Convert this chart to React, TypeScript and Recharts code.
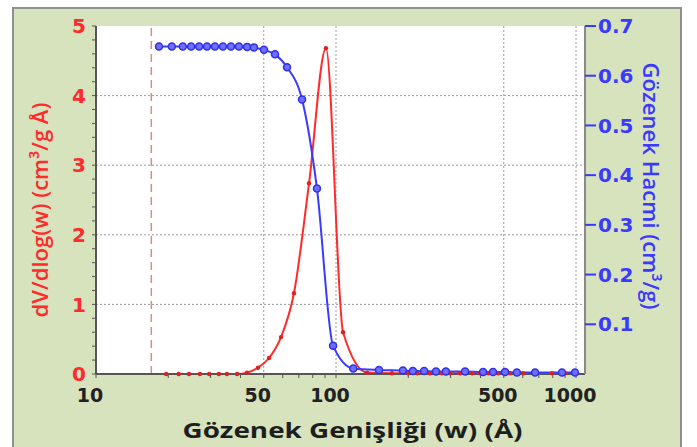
import { LineChart, Line, XAxis, YAxis, CartesianGrid, ReferenceLine, Label } from 'recharts';

// pore width (Å) for the cumulative pore volume curve
const volumeWidths = [
  18.3, 20.7, 23.0, 24.9, 26.9, 29.0, 31.3, 33.8, 36.5, 39.4, 42.6, 45.5, 50.1, 55.7, 62.5, 72.2, 83.3,
  97.2, 118, 151, 190, 209, 233, 261, 287, 345, 410, 451, 506, 567, 675, 874, 990,
];
// Gözenek Hacmi (cm3/g)
const poreVolume = [
  0.659, 0.659, 0.659, 0.659, 0.659, 0.659, 0.659, 0.659, 0.659, 0.659, 0.658, 0.657, 0.652, 0.643, 0.617,
  0.552, 0.373, 0.057, 0.011, 0.008, 0.007, 0.006, 0.006, 0.005, 0.005, 0.005, 0.004, 0.004, 0.004, 0.003,
  0.003, 0.003, 0.003,
];

// pore width (Å) for the distribution curve
const distWidths = [
  19.6, 22.1, 24.4, 27.1, 29.6, 32.5, 35.1, 38.7, 42.6, 47.3, 52.6, 59.0, 66.8, 77.2, 90.8, 107, 135, 171,
  200, 218, 246, 276, 299, 329, 369, 398, 430, 473, 531, 601, 794, 900, 1009,
];
// dV/dlog(w) (cm3/g Å)
const dVdlogW = [
  0, 0, 0, 0, 0, 0, 0, 0, 0.02, 0.09, 0.23, 0.53, 1.16, 2.74, 4.68, 0.6, 0.02, 0.01, 0.01, 0.01, 0.01, 0.01,
  0.01, 0.01, 0.01, 0.01, 0.01, 0.01, 0.01, 0.01, 0.01, 0.01, 0.01,
];

const xTicks = [10, 20, 30, 40, 50, 60, 70, 80, 90, 100, 200, 300, 400, 500, 600, 700, 800, 900, 1000];
const xLabels = [10, 50, 100, 500, 1000];
const leftTicks = [
  0, 0.2, 0.4, 0.6, 0.8, 1, 1.2, 1.4, 1.6, 1.8, 2, 2.2, 2.4, 2.6, 2.8, 3, 3.2, 3.4, 3.6, 3.8, 4, 4.2, 4.4,
  4.6, 4.8, 5,
];
const rightTicks = [0.1, 0.2, 0.3, 0.4, 0.5, 0.6, 0.7];
const gridY = [1, 2, 3, 4];
const gridX = [50, 100, 500, 1000];
const cutoffWidth = 17;

const volumeData = volumeWidths.map((w, i) => ({ w, v: poreVolume[i] }));
const distData = distWidths.map((w, i) => ({ w, d: dVdlogW[i] }));

const RED = '#ff2b2b';
const BLUE = '#3a3aff';
const tickFont = 'DejaVu Sans, Verdana, sans-serif';
const titleFont = 'Open Sans, Noto Sans, sans-serif';

export default function App() {
  return (
    <div style={{ position: 'absolute', left: 0, top: 0, width: 697, height: 447, background: '#fff', overflow: 'hidden' }}>
      <div
        style={{
          position: 'absolute',
          left: 12,
          top: 7,
          width: 666,
          height: 460,
          background: '#d7e3bd',
          border: '2px solid #8f8f8f',
        }}
      />
      <div style={{ position: 'absolute', left: 0, top: 0 }}>
        <LineChart width={697} height={447} margin={{ top: 26, right: 50, bottom: 43, left: 40 }}>
          <CartesianGrid
            yAxisId="left"
            fill="#fff"
            fillOpacity={1}
            stroke="#9a9a9a"
            strokeDasharray="2 2"
            horizontalValues={gridY}
            verticalValues={gridX}
          />
          <XAxis
            dataKey="w"
            type="number"
            scale="log"
            domain={[10, 1090]}
            allowDataOverflow
            ticks={xTicks}
            interval={0}
            tickFormatter={(t: number) => (xLabels.includes(t) ? String(t) : '')}
            tick={{ fill: '#222', fontSize: 19, fontWeight: 700, fontFamily: tickFont, dx: -6 }}
            tickSize={4}
            tickMargin={11}
            axisLine={{ stroke: '#555', strokeWidth: 2 }}
            tickLine={{ stroke: '#555' }}
            height={30}
          >
            <Label
              content={({ viewBox }: any) => (
                <text
                  x={viewBox.x + viewBox.width / 2 + 12}
                  y={viewBox.y + 64}
                  textAnchor="middle"
                  fontFamily={titleFont}
                  fontWeight={700}
                  fontSize={22}
                  fill="#1e1e1e"
                  textLength={340}
                  lengthAdjust="spacingAndGlyphs"
                >
                  Gözenek Genişliği (w)  (Å)
                </text>
              )}
            />
          </XAxis>
          <XAxis
            xAxisId="top"
            orientation="top"
            type="number"
            scale="log"
            domain={[10, 1090]}
            allowDataOverflow
            tick={false}
            tickLine={false}
            axisLine={{ stroke: '#8a8a8a', strokeWidth: 2 }}
            height={0}
          />
          <YAxis
            yAxisId="left"
            type="number"
            domain={[0, 5]}
            ticks={leftTicks}
            interval={0}
            tickFormatter={(t: number) => (Number.isInteger(t) ? String(t) : '')}
            tick={{ fill: RED, fontSize: 20, fontWeight: 700, fontFamily: tickFont }}
            tickSize={4}
            tickMargin={6}
            axisLine={{ stroke: '#555', strokeWidth: 2 }}
            tickLine={{ stroke: '#555' }}
            width={56}
          >
            <Label
              content={() => (
                <text
                  x={48}
                  y={210}
                  transform="rotate(-90, 48, 210)"
                  textAnchor="middle"
                  fontFamily={titleFont}
                  fontWeight={600}
                  fontSize={22}
                  fill={RED}
                  textLength={215}
                  lengthAdjust="spacingAndGlyphs"
                >
                  dV/dlog(w) (cm³/g Å)
                </text>
              )}
            />
          </YAxis>
          <YAxis
            yAxisId="right"
            orientation="right"
            type="number"
            domain={[0, 0.7]}
            ticks={rightTicks}
            interval={0}
            tickFormatter={(t: number) => t.toFixed(1)}
            tick={{ fill: BLUE, fontSize: 20, fontWeight: 700, fontFamily: tickFont }}
            tickSize={11}
            tickMargin={2}
            axisLine={{ stroke: '#8a8a8a', strokeWidth: 2 }}
            tickLine={{ stroke: BLUE, strokeWidth: 2 }}
            width={62}
          >
            <Label
              content={() => (
                <text
                  x={643}
                  y={186}
                  transform="rotate(90, 643, 186)"
                  textAnchor="middle"
                  fontFamily={titleFont}
                  fontWeight={600}
                  fontSize={22}
                  fill={BLUE}
                  textLength={247}
                  lengthAdjust="spacingAndGlyphs"
                >
                  Gözenek Hacmi (cm³/g)
                </text>
              )}
            />
          </YAxis>
          <ReferenceLine
            yAxisId="left"
            x={cutoffWidth}
            stroke="#d98a8a"
            strokeWidth={1.5}
            strokeDasharray="8 5"
          />
          <Line
            yAxisId="left"
            data={distData}
            dataKey="d"
            type="monotone"
            stroke={RED}
            strokeWidth={2}
            dot={{ r: 2.2, fill: '#e02020', stroke: 'none' }}
            isAnimationActive={false}
          />
          <Line
            yAxisId="right"
            data={volumeData}
            dataKey="v"
            type="monotone"
            stroke={BLUE}
            strokeWidth={2}
            dot={{ r: 3.5, fill: '#6e6eff', stroke: '#2f2fe8', strokeWidth: 1.5 }}
            isAnimationActive={false}
          />
        </LineChart>
      </div>
    </div>
  );
}
